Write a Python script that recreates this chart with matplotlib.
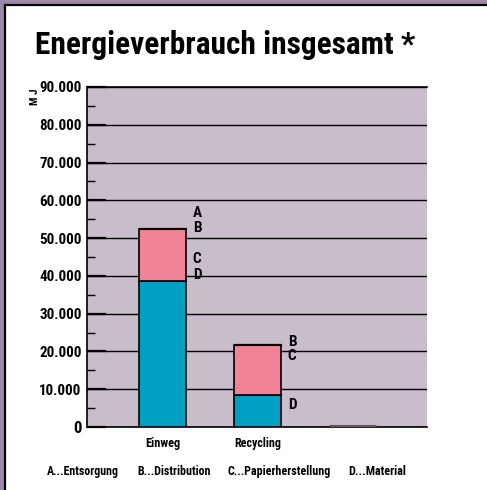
import matplotlib as mpl
mpl.use('Agg')
import matplotlib.pyplot as plt
from matplotlib import font_manager
from matplotlib.patches import Rectangle
from matplotlib.ticker import MultipleLocator, FuncFormatter

# schmale Schrift wählen, soweit vorhanden
names = {f.name for f in font_manager.fontManager.ttflist}
font = 'DejaVu Sans'
for cand in ['Liberation Sans Narrow', 'Roboto Condensed', 'DejaVu Sans Condensed',
             'Open Sans Condensed', 'Arial Narrow', 'Roboto']:
    if cand in names:
        font = cand
        break
plt.rcParams['font.family'] = [font, 'DejaVu Sans']
plt.rcParams['font.weight'] = 'bold'

# Energieverbrauch in MJ je Variante
categories = ['Einweg', 'Recycling', '']
material = [38700, 8600, 0]           # D
papier = [13600, 13200, 0]            # C
distribution = [300, 300, 0]          # B
entsorgung = [200, 0, 0]              # A

legend_text = ['A...Entsorgung', 'B...Distribution', 'C...Papierherstellung', 'D...Material']

bg = '#c9bdcc'
pink = '#f08398'
teal = '#00a0c3'
frame = '#9c88a8'

fig = plt.figure(figsize=(4.87, 4.90), dpi=100)
fig.patch.set_facecolor(frame)
fig.patches.append(Rectangle((5 / 487, -0.1), 1.2, 1.1 - 5 / 490, transform=fig.transFigure,
                             facecolor='white', edgecolor='black', linewidth=1.6, zorder=-1))

ax = fig.add_axes([87 / 487, 1 - 427 / 490, 340 / 487, 340 / 490])
ax.set_facecolor(bg)

x = range(len(categories))
w = 0.495
ax.bar(x, material, w, color=teal, edgecolor='black', linewidth=1.2, zorder=3)
bottom = list(material)
ax.bar(x, papier, w, bottom=bottom, color=pink, edgecolor='black', linewidth=1.2, zorder=3)
bottom = [b + p for b, p in zip(bottom, papier)]
ax.bar(x, distribution, w, bottom=bottom, color='black', edgecolor='black', linewidth=0.8, zorder=3)
bottom = [b + d for b, d in zip(bottom, distribution)]
ax.bar(x, entsorgung, w, bottom=bottom, color='black', edgecolor='black', linewidth=0.8, zorder=3)
# leere dritte Säule
ax.plot([2 - w / 2, 2 + w / 2], [250, 250], color='#5a5a5a', lw=2.2, zorder=3, solid_capstyle='butt')

# Segmentbeschriftung
seg_labels = [
    (0, ['A', 'B', 'C', 'D'], [56700, 52800, 44400, 40200]),
    (1, ['B', 'C'], [22500, 18700]),
    (1, ['D'], [5800]),
]
for xi, letters, ys in seg_labels:
    for letter, yy in zip(letters, ys):
        ax.text(xi + w / 2 + 0.07, yy, letter, fontsize=11, fontweight='bold',
                va='center', ha='left', zorder=4)

ax.set_xlim(-0.795, 2.784)
ax.set_ylim(0, 90000)
ax.yaxis.set_major_locator(MultipleLocator(10000))
ax.yaxis.set_minor_locator(MultipleLocator(5000))
ax.yaxis.set_major_formatter(FuncFormatter(lambda v, p: '0' if v == 0 else f'{int(v):,}'.replace(',', '.')))
ax.grid(axis='y', which='major', color='black', linewidth=1.0, zorder=1)
ax.tick_params(axis='y', which='major', direction='in', length=14, width=1.6, labelsize=12, pad=4)
ax.tick_params(axis='y', which='minor', direction='in', length=6, width=1.0)
ax.set_xticks(list(x))
ax.set_xticklabels(categories, fontsize=10, fontweight='bold')
ax.tick_params(axis='x', length=0, pad=7)

ax.spines['right'].set_visible(False)
for s in ['left', 'top', 'bottom']:
    ax.spines[s].set_linewidth(1.2)

title = fig.text(35 / 487, 1 - 45 / 490, 'Energieverbrauch insgesamt *', fontsize=22,
                 fontweight='bold', va='center', ha='left')
fig.text(35 / 487, 1 - 97 / 490, 'M J', fontsize=8, fontweight='bold', rotation=90,
         va='center', ha='center')

legend = []
for xp, t in zip([47, 137, 228, 348], legend_text):
    legend.append(fig.text(xp / 487, 1 - 471 / 490, t, fontsize=10, fontweight='bold',
                           va='center', ha='left'))


# Texte auf feste Breiten einpassen
def fit(txt, target, r):
    wt = txt.get_window_extent(r).width
    txt.set_fontsize(txt.get_fontsize() * target / wt)


fig.canvas.draw()
r = fig.canvas.get_renderer()
fit(title, 380, r)
for t, a in zip(legend, [72, 74, 103, 58]):
    fit(t, a, r)
for lbl in ax.get_yticklabels():
    if lbl.get_text() not in ('', '0'):
        fit(lbl, 42, r)
for lbl, a in zip(ax.get_xticklabels(), [35, 47]):
    fit(lbl, a, r)
ax.get_yticklabels()[0].set_fontsize(ax.get_yticklabels()[1].get_fontsize())

fig.savefig('out.png', dpi=100)
